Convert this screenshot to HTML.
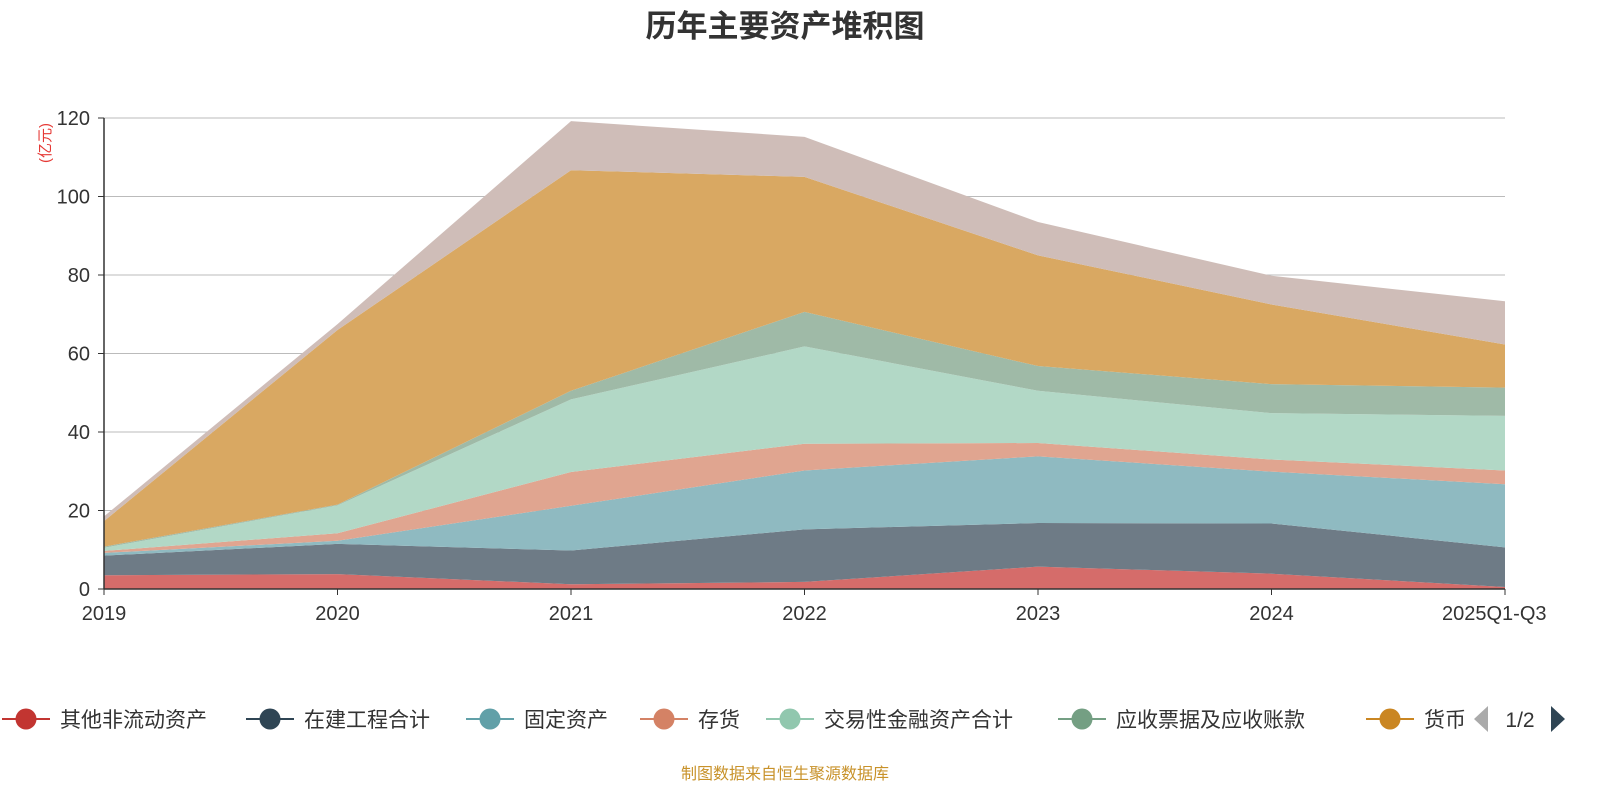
<!DOCTYPE html>
<html><head><meta charset="utf-8">
<style>
body{margin:0;width:1600px;height:800px;background:#fff;overflow:hidden;font-family:"Liberation Sans","Noto Sans CJK SC",sans-serif;}
svg{display:block}
</style></head>
<body>
<svg id="chart" width="1600" height="800" xmlns="http://www.w3.org/2000/svg" font-family="Liberation Sans, Noto Sans CJK SC, sans-serif">
<text x="785" y="37" text-anchor="middle" font-size="31" font-weight="bold" fill="#333">历年主要资产堆积图</text>
<text transform="translate(50,143) rotate(-90)" text-anchor="middle" font-size="15" fill="#e53935">(亿元)</text>
<g id="grid"></g>
<g id="areas"></g>
<g id="axes"></g>
<g id="legend"></g>
<text x="785" y="779" text-anchor="middle" font-size="16" fill="#c8922a">制图数据来自恒生聚源数据库</text>
</svg>
<script>
const categories=["2019","2020","2021","2022","2023","2024","2025Q1-Q3"];
const seriesNames=["其他非流动资产","在建工程合计","固定资产","存货","交易性金融资产合计","应收票据及应收账款","货币","其他"];
const s1=[3.5,3.8,1.2,1.8,5.7,3.9,0.5];
const s2=[5.0,7.7,8.6,13.4,11.1,12.8,10.1];
const s3=[0.7,0.8,11.4,15.0,17.0,13.2,16.1];
const s4=[0.5,1.9,8.6,6.8,3.4,3.1,3.5];
const s5=[0.8,7.1,18.5,24.8,13.3,11.8,13.9];
const s6=[0.3,0.2,2.2,8.8,6.3,7.4,7.2];
const s7=[6.5,44.5,56.2,34.4,28.2,20.3,11.0];
const s8=[1.2,1.5,12.5,10.2,8.5,7.3,11.0];
const yTicks=[0,20,40,60,80,100,120];
const series=[s1,s2,s3,s4,s5,s6,s7,s8];
const fills=["#d56c6a","#6e7b86","#8fbac1","#e0a590","#b2d8c6","#9fbaa7","#d9a862","#cfbdb8"];
const legendColors=["#c23531","#2f4554","#61a0a8","#d48265","#91c7ae","#749f83","#ca8622"];
const NS="http://www.w3.org/2000/svg";
const x0=104,x1=1505,y0=589,y1=118;
const xs=i=>x0+(x1-x0)*i/(categories.length-1);
const ys=v=>y0-(y0-y1)*v/120;
function mk(tag,attrs,parent){const e=document.createElementNS(NS,tag);for(const k in attrs)e.setAttribute(k,attrs[k]);parent.appendChild(e);return e;}
const grid=document.getElementById('grid'),axes=document.getElementById('axes'),areas=document.getElementById('areas'),legend=document.getElementById('legend');
yTicks.forEach(t=>{
  if(t>0){const l=mk('line',{x1:x0,x2:x1,y1:ys(t),y2:ys(t),stroke:'#bbb','stroke-width':1},grid);
  
  }
  const tx=mk('text',{x:90,y:ys(t)+7,'text-anchor':'end','font-size':20,fill:'#333'},axes);
  tx.textContent=t;
  
  
  const tk=mk('line',{x1:x0-6,x2:x0,y1:ys(t),y2:ys(t),stroke:'#333'},axes);
  
  
});
let base=categories.map(()=>0);
series.forEach((s,k)=>{
  const top=base.map((b,i)=>b+s[i]);
  let d='M'+top.map((v,i)=>xs(i)+','+ys(v)).join(' L');
  for(let i=categories.length-1;i>=0;i--)d+=' L'+xs(i)+','+ys(base[i]);
  d+=' Z';
  const p=mk('path',{d:d,fill:fills[k]},areas);
  
  
  base=top;
});
const ya=mk('line',{x1:x0,x2:x0,y1:y1,y2:y0,stroke:'#333','stroke-width':1.5},axes);


const xa=mk('line',{x1:x0,x2:x1,y1:y0,y2:y0,stroke:'#333','stroke-width':1.5},axes);


categories.forEach((c,i)=>{
  const tk=mk('line',{x1:xs(i),x2:xs(i),y1:y0,y2:y0+6,stroke:'#333'},axes);
  
  
  const anchor=i===categories.length-1?'start':'middle';
  const tx=mk('text',{x:i===categories.length-1?xs(i)-63:xs(i),y:620,'text-anchor':anchor,'font-size':20,fill:'#333'},axes);
  tx.textContent=c;
  
  
});
const lx=[2,246,466,640,766,1058,1366];
lx.forEach((x,k)=>{
  const g=mk('g',{},legend);
  
  
  mk('line',{x1:x,x2:x+48,y1:719,y2:719,stroke:legendColors[k],'stroke-width':2},g);
  mk('circle',{cx:x+24,cy:719,r:10.5,fill:legendColors[k]},g);
  const t=mk('text',{x:x+58,y:727,'font-size':21,fill:'#333'},g);
  t.textContent=seriesNames[k];
});
const prev=mk('path',{d:'M1488,706 L1474,719 L1488,732 Z',fill:'#aaa'},legend);


const pg=mk('text',{x:1520,y:727,'text-anchor':'middle','font-size':21,fill:'#333'},legend);
pg.textContent='1/2';


const next=mk('path',{d:'M1551,706 L1565,719 L1551,732 Z',fill:'#2f4554'},legend);


</script>
</body></html>
